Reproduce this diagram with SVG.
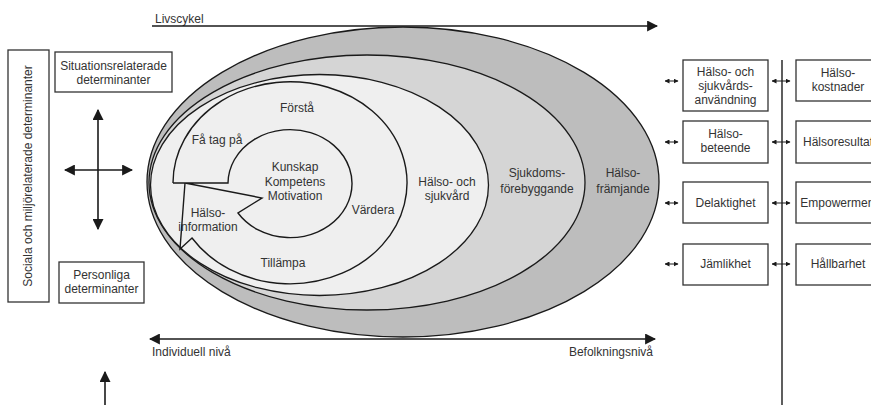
<svg xmlns="http://www.w3.org/2000/svg" width="871" height="405" viewBox="0 0 871 405">
<defs>
<marker id="ah" viewBox="0 0 10 10" markerUnits="userSpaceOnUse" markerWidth="11" markerHeight="11" refX="9" refY="5" orient="auto-start-reverse"><path d="M0,0 L10,5 L0,10 z" fill="#1a1a1a"/></marker>
<marker id="sm" viewBox="0 0 10 10" markerUnits="userSpaceOnUse" markerWidth="5" markerHeight="5" refX="9" refY="5" orient="auto-start-reverse"><path d="M0,0 L10,5 L0,10 z" fill="#1a1a1a"/></marker>
</defs>
<style>
text{font-family:"Liberation Sans",Arial,sans-serif;font-size:12px;fill:#333}
.c{text-anchor:middle}
.box{fill:#fff;stroke:#333;stroke-width:1.3}
.ln{stroke:#1a1a1a;stroke-width:1.4;fill:none}
.ar{stroke:#1a1a1a;stroke-width:1.6;fill:none}
.sa{stroke:#1a1a1a;stroke-width:1;fill:none}
</style>
<rect width="871" height="405" fill="#fff"/>

<g id="rings">
<ellipse cx="403" cy="182" rx="256" ry="155" fill="#bdbdbd" stroke="#1a1a1a" stroke-width="1.3"/>
<ellipse cx="367" cy="182.5" rx="218" ry="127.5" fill="#d5d5d5" stroke="#1a1a1a" stroke-width="1.3"/>
<ellipse cx="319.5" cy="185" rx="169" ry="110.5" fill="#efefef" stroke="#1a1a1a" stroke-width="1.3"/>
<path class="ln" d="M173,183 A117,101 0 1 1 192,238 L180,249 L185,183"/>
<path class="ln" d="M173,183 L228,183 A62,54 0 1 1 238,213 L262,198 L185,183"/>
</g>

<g id="labels-inner">
<text class="c" x="297" y="112">Förstå</text>
<text class="c" x="217" y="144">Få tag på</text>
<text class="c" x="295" y="171">Kunskap</text>
<text class="c" x="295" y="186">Kompetens</text>
<text class="c" x="295" y="200">Motivation</text>
<text class="c" x="373" y="214">Värdera</text>
<text class="c" x="208" y="217">Hälso-</text>
<text class="c" x="208" y="231">information</text>
<text class="c" x="283" y="267">Tillämpa</text>
<text class="c" x="447" y="186">Hälso- och</text>
<text class="c" x="447" y="200">sjukvård</text>
<text class="c" x="537" y="177">Sjukdoms-</text>
<text class="c" x="537" y="193">förebyggande</text>
<text class="c" x="623" y="177">Hälso-</text>
<text class="c" x="623" y="193">främjande</text>
</g>

<g id="social"><rect class="box" x="8" y="50" width="41" height="252"/><text class="c" transform="translate(32,176) rotate(-90)">Sociala och miljörelaterade determinanter</text></g>
<g id="situation"><rect class="box" x="55" y="52" width="117" height="40"/><text class="c" x="113.5" y="70">Situationsrelaterade</text><text class="c" x="113.5" y="84">determinanter</text></g>
<g id="personliga"><rect class="box" x="59" y="262" width="85" height="41"/><text class="c" x="101.5" y="279">Personliga</text><text class="c" x="101.5" y="293">determinanter</text></g>

<g id="r1"><rect class="box" x="683" y="60" width="85" height="51"/><text class="c" x="725.5" y="76">Hälso- och</text><text class="c" x="725.5" y="90">sjukvårds-</text><text class="c" x="725.5" y="104">användning</text></g>
<g id="r2"><rect class="box" x="683" y="121" width="85" height="42"/><text class="c" x="725.5" y="138">Hälso-</text><text class="c" x="725.5" y="152">beteende</text></g>
<g id="r3"><rect class="box" x="683" y="182" width="85" height="41"/><text class="c" x="725.5" y="207">Delaktighet</text></g>
<g id="r4"><rect class="box" x="683" y="244" width="85" height="41"/><text class="c" x="725.5" y="268">Jämlikhet</text></g>
<g id="o1"><rect class="box" x="796" y="60" width="90" height="41"/><text class="c" x="838" y="77">Hälso-</text><text class="c" x="838" y="91">kostnader</text></g>
<g id="o2"><rect class="box" x="796" y="121" width="90" height="42"/><text class="c" x="838" y="146">Hälsoresultat</text></g>
<g id="o3"><rect class="box" x="796" y="182" width="90" height="41"/><text class="c" x="839" y="207">Empowerment</text></g>
<g id="o4"><rect class="box" x="796" y="244" width="90" height="41"/><text class="c" x="838" y="268">Hållbarhet</text></g>

<g id="axis-labels">
<text x="155" y="23">Livscykel</text>
<text x="152" y="356">Individuell nivå</text>
<text x="653" y="356" text-anchor="end">Befolkningsnivå</text>
</g>

<g id="connectors">
<line class="ar" x1="152" y1="26" x2="657" y2="26" marker-end="url(#ah)"/>
<line class="ar" x1="150" y1="339" x2="655" y2="339" marker-start="url(#ah)" marker-end="url(#ah)"/>
<line class="ar" x1="98" y1="110" x2="98" y2="229" marker-start="url(#ah)" marker-end="url(#ah)"/>
<line class="ar" x1="65" y1="170" x2="132" y2="170" marker-start="url(#ah)" marker-end="url(#ah)"/>
<line class="ar" x1="105" y1="372" x2="105" y2="405" marker-start="url(#ah)"/>
<line class="ln" x1="782" y1="60" x2="782" y2="405"/>
<line class="sa" x1="665" y1="81" x2="678" y2="81" marker-start="url(#sm)" marker-end="url(#sm)"/>
<line class="sa" x1="665" y1="142" x2="678" y2="142" marker-start="url(#sm)" marker-end="url(#sm)"/>
<line class="sa" x1="665" y1="203" x2="678" y2="203" marker-start="url(#sm)" marker-end="url(#sm)"/>
<line class="sa" x1="665" y1="264" x2="678" y2="264" marker-start="url(#sm)" marker-end="url(#sm)"/>
<line class="sa" x1="772" y1="81" x2="790" y2="81" marker-start="url(#sm)" marker-end="url(#sm)"/>
<line class="sa" x1="772" y1="142" x2="790" y2="142" marker-start="url(#sm)" marker-end="url(#sm)"/>
<line class="sa" x1="772" y1="203" x2="790" y2="203" marker-start="url(#sm)" marker-end="url(#sm)"/>
<line class="sa" x1="772" y1="264" x2="790" y2="264" marker-start="url(#sm)" marker-end="url(#sm)"/>
</g>
</svg>
